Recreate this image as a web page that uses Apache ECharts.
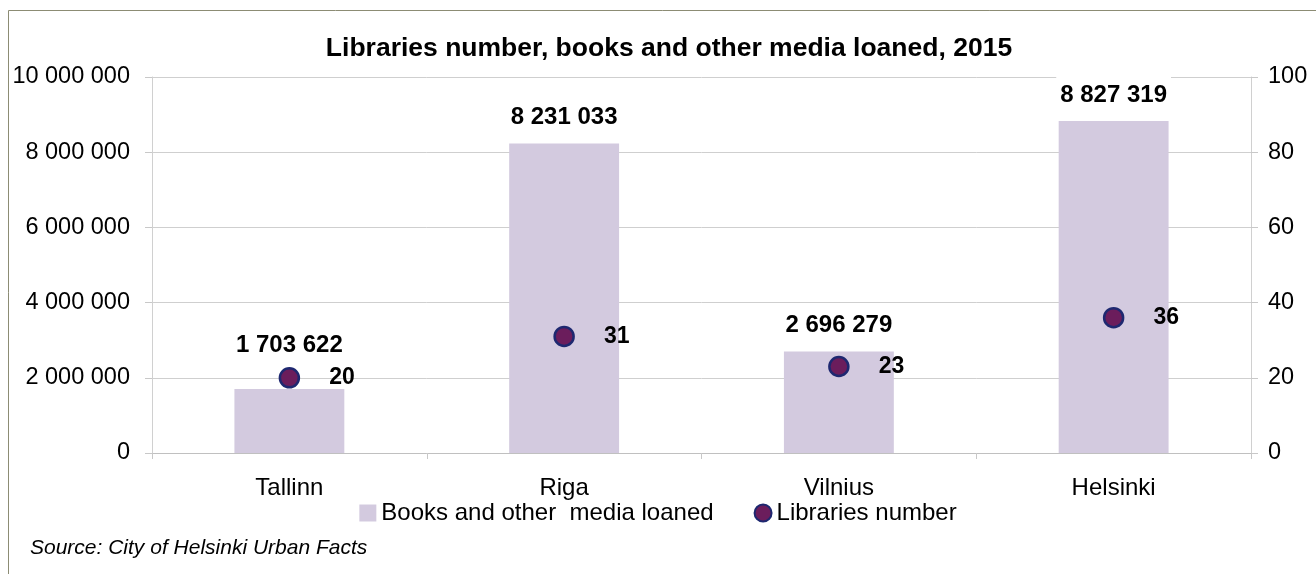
<!DOCTYPE html>
<html>
<head>
<meta charset="utf-8">
<script src="https://cdn.jsdelivr.net/npm/echarts@6/dist/echarts.min.js"></script>
<style>
  html, body { margin: 0; padding: 0; background: #fff; }
  #main { width: 1316px; height: 574px; }
</style>
</head>
<body>
<div id="main"></div>
<script>
var cities = ['Tallinn', 'Riga', 'Vilnius', 'Helsinki'];
var loaned = [1703622, 8231033, 2696279, 8827319];
var libraries = [20, 31, 23, 36];

function spaced(v) {
    return String(v).replace(/\B(?=(\d{3})+(?!\d))/g, ' ');
}

// Tallinn's loan label sits higher so it clears the library point
var loanedData = loaned.map(function (v, i) {
    return i === 0 ? { value: v, label: { distance: 24 } } : v;
});

var chart = echarts.init(document.getElementById('main'));

var option = {
    backgroundColor: '#fff',
    textStyle: { fontFamily: 'Liberation Sans, Arial, sans-serif' },
    title: {
        text: 'Libraries number, books and other media loaned, 2015',
        left: 664,
        textAlign: 'center',
        top: 30,
        textStyle: { fontSize: 26.5, fontWeight: 'bold', color: '#000', fontFamily: 'Liberation Sans' }
    },
    graphic: [
        {
            type: 'rect',
            shape: { x: 8.5, y: 10.5, width: 1320, height: 580 },
            style: { fill: 'none', stroke: '#8c8c74', lineWidth: 1 },
            silent: true
        },
        {
            type: 'text',
            left: 30,
            top: 538,
            style: {
                text: 'Source: City of Helsinki Urban Facts',
                font: 'italic 21px Liberation Sans',
                fill: '#000'
            }
        }
    ],
    legend: {
        top: 496,
        left: 'center',
        itemGap: 40,
        itemWidth: 17,
        itemHeight: 17,
        textStyle: { fontSize: 24, color: '#000', padding: [0, 0, 0, 0] },
        data: [
            { name: 'Books and other  media loaned', icon: 'rect' },
            { name: 'Libraries number', icon: 'circle' }
        ]
    },
    grid: { left: 152, right: 65, top: 77, bottom: 121 },
    xAxis: {
        type: 'category',
        data: cities,
        axisLine: { lineStyle: { color: '#c0c0c0' } },
        axisTick: { show: true, length: 6, lineStyle: { color: '#c8c8c8' } },
        axisLabel: { fontSize: 24, color: '#000', margin: 23 }
    },
    yAxis: [
        {
            type: 'value',
            min: 0,
            max: 10000000,
            interval: 2000000,
            axisLine: { show: true, lineStyle: { color: '#d0d0d0' } },
            axisTick: { show: true, length: 7, lineStyle: { color: '#c8c8c8' } },
            splitLine: { lineStyle: { color: '#cfcfcf' } },
            axisLabel: { fontSize: 23.5, color: '#000', margin: 22, formatter: spaced }
        },
        {
            type: 'value',
            min: 0,
            max: 100,
            interval: 20,
            axisLine: { show: true, lineStyle: { color: '#d0d0d0' } },
            axisTick: { show: true, length: 7, lineStyle: { color: '#c8c8c8' } },
            splitLine: { show: false },
            axisLabel: { fontSize: 23.5, color: '#000', margin: 17 }
        }
    ],
    series: [
        {
            name: 'Books and other  media loaned',
            type: 'bar',
            data: loanedData,
            barWidth: '40%',
            itemStyle: { color: '#d3cadf' },
            label: {
                show: true,
                position: 'top',
                distance: 6,
                fontSize: 24,
                fontWeight: 'bold',
                color: '#000',
                backgroundColor: '#fff',
                padding: [10, 4, 8, 4],
                formatter: function (p) { return spaced(p.value); }
            }
        },
        {
            name: 'Libraries number',
            type: 'scatter',
            yAxisIndex: 1,
            data: libraries,
            symbol: 'circle',
            symbolSize: 19,
            itemStyle: { color: '#6b1d5c', borderColor: '#1e2870', borderWidth: 2.5, opacity: 1 },
            label: {
                show: true,
                position: 'right',
                distance: 29,
                fontSize: 23,
                fontWeight: 'bold',
                color: '#000'
            },
            z: 3
        }
    ]
};

chart.setOption(option);
</script>
</body>
</html>
